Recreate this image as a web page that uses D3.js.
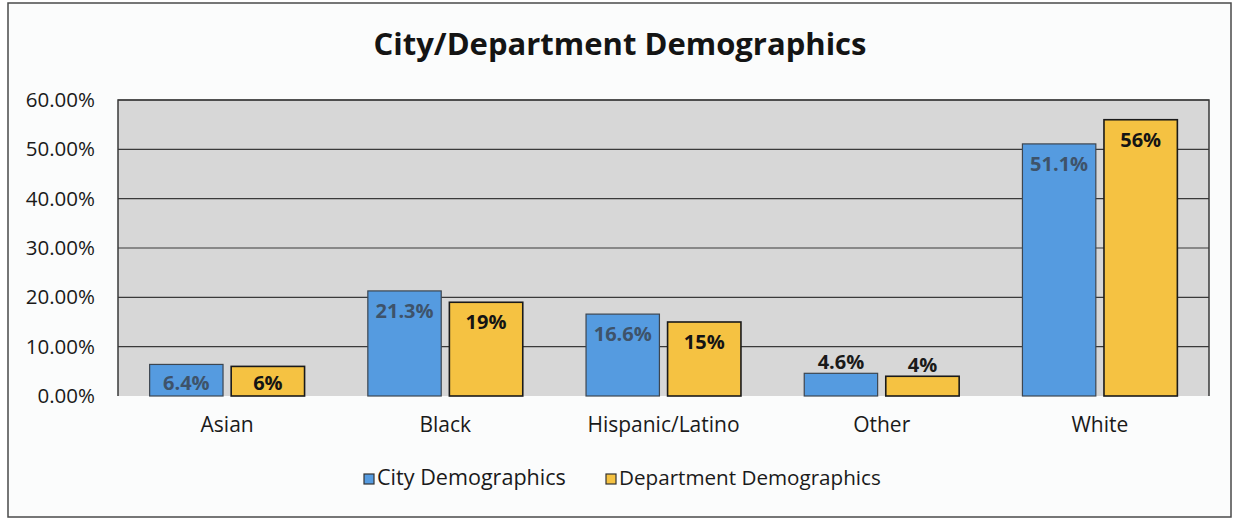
<!DOCTYPE html>
<html>
<head>
<meta charset="utf-8">
<script src="https://cdn.jsdelivr.net/npm/d3@7"></script>
<style>
  body { margin: 0; background: #ffffff; }
  text { font-family: "Open Sans", sans-serif; }
</style>
</head>
<body>
<div id="chart"></div>
<script>
// data
const categories = ['Asian', 'Black', 'Hispanic/Latino', 'Other', 'White'];
const seriesNames = ['City Demographics', 'Department Demographics'];
const cityValues = [6.4, 21.3, 16.6, 4.6, 51.1];
const deptValues = [6, 19, 15, 4, 56];
const cityLabels = ['6.4%', '21.3%', '16.6%', '4.6%', '51.1%'];
const deptLabels = ['6%', '19%', '15%', '4%', '56%'];
const yTicks = [0, 10, 20, 30, 40, 50, 60];
const labelAbove = ['Other'];   // labels sitting above the bar instead of inside

const W = 1238, H = 519;
const plot = {left: 118, right: 1209, top: 100, bottom: 396};
const colors = ['#559be0', '#f5c242'];
const strokes = ['#3d4650', '#1a1a1a'];
const labelColors = ['#3b4756', '#141414'];

const svg = d3.select('#chart').append('svg')
    .attr('width', W).attr('height', H);

// shrink/grow a text's font so it spans the width seen in the picture
function fitWidth(sel, target) {
  sel.each(function() {
    const t = d3.select(this);
    const fs = parseFloat(t.attr('font-size'));
    const w = this.getComputedTextLength();
    if (w > 0) t.attr('font-size', (fs * target / w).toFixed(2));
  });
}

// outer frame
svg.append('rect')
    .attr('x', 8).attr('y', 3).attr('width', 1223).attr('height', 514)
    .attr('fill', '#fbfcfc').attr('stroke', '#4a4a4a').attr('stroke-width', 1.5);

const x0 = d3.scaleBand().domain(categories)
    .range([plot.left, plot.right]).paddingInner(0.29).paddingOuter(0.145);
const x1 = d3.scaleBand().domain(seriesNames)
    .range([0, x0.bandwidth()]).paddingInner(0.1);
const y = d3.scaleLinear().domain([0, 60]).range([plot.bottom, plot.top]);

// plot background
svg.append('rect')
    .attr('x', plot.left).attr('y', plot.top)
    .attr('width', plot.right - plot.left).attr('height', plot.bottom - plot.top)
    .attr('fill', '#d7d7d7');

// gridlines
svg.append('g').selectAll('line')
    .data(yTicks.filter(d => d > 0))
    .join('line')
    .attr('x1', plot.left).attr('x2', plot.right)
    .attr('y1', d => y(d)).attr('y2', d => y(d))
    .attr('stroke', '#3a3a3a').attr('stroke-width', 1.2);

// plot border (left, top, right)
svg.append('path')
    .attr('d', `M${plot.left},${plot.bottom}V${plot.top}H${plot.right}V${plot.bottom}`)
    .attr('fill', 'none').attr('stroke', '#3a3a3a').attr('stroke-width', 1.5);

// y axis labels
const yAxis = svg.append('g')
    .attr('transform', `translate(${plot.left},0)`)
    .call(d3.axisLeft(y).tickValues(yTicks).tickSize(0).tickPadding(23)
        .tickFormat(d => d3.format('.2f')(d) + '%'));
yAxis.select('.domain').remove();
yAxis.selectAll('text').attr('font-size', 20.5).attr('fill', '#1a1a1a')
    .style('font-family', '"Open Sans", sans-serif');

// x axis labels
const xAxis = svg.append('g')
    .attr('transform', `translate(0,${plot.bottom})`)
    .call(d3.axisBottom(x0).tickSize(0).tickPadding(21));
xAxis.select('.domain').remove();
xAxis.selectAll('text').attr('font-size', 21).attr('fill', '#1a1a1a')
    .style('font-family', '"Open Sans", sans-serif');

// bars
const rows = categories.map((c, i) => ({
  cat: c,
  vals: [
    {s: 0, v: cityValues[i], lab: cityLabels[i]},
    {s: 1, v: deptValues[i], lab: deptLabels[i]}
  ]
}));

const groups = svg.append('g').selectAll('g')
    .data(rows).join('g')
    .attr('transform', d => `translate(${x0(d.cat)},0)`);

groups.selectAll('rect')
    .data(d => d.vals.map(v => ({...v, cat: d.cat})))
    .join('rect')
    .attr('x', d => x1(seriesNames[d.s]))
    .attr('width', x1.bandwidth())
    .attr('y', d => y(d.v))
    .attr('height', d => y(0) - y(d.v))
    .attr('fill', d => colors[d.s])
    .attr('stroke', d => strokes[d.s])
    .attr('stroke-width', d => d.s === 0 ? 1.2 : 1.6);

groups.selectAll('text.val')
    .data(d => d.vals.map(v => ({...v, cat: d.cat})))
    .join('text')
    .attr('class', 'val')
    .attr('x', d => x1(seriesNames[d.s]) + x1.bandwidth() / 2)
    .attr('y', d => labelAbove.includes(d.cat) ? y(d.v) - 4 : Math.min(y(d.v) + 27, y(0) - 6))
    .attr('text-anchor', 'middle')
    .attr('font-size', 20).attr('font-weight', 'bold')
    .attr('fill', d => labelAbove.includes(d.cat) ? '#1a1a1a' : labelColors[d.s])
    .attr('opacity', d => d.s === 0 && !labelAbove.includes(d.cat) ? 0.85 : 1)
    .text(d => d.lab);

// title
svg.append('text')
    .attr('x', 620).attr('y', 55)
    .attr('text-anchor', 'middle')
    .attr('font-size', 28).attr('font-weight', 'bold').attr('fill', '#141414')
    .text('City/Department Demographics')
    .call(fitWidth, 493);

// legend
const legendX = [364, 606];
const legendW = [189, 262];
const legend = svg.append('g').selectAll('g')
    .data(seriesNames).join('g')
    .attr('transform', (d, i) => `translate(${legendX[i]},474)`);
legend.append('rect')
    .attr('width', 10).attr('height', 10)
    .attr('fill', (d, i) => colors[i])
    .attr('stroke', '#333').attr('stroke-width', 1.2);
legend.append('text')
    .attr('x', 13).attr('y', 11)
    .attr('font-size', 19).attr('fill', '#1a1a1a')
    .text(d => d)
    .each(function(d, i) { d3.select(this).call(fitWidth, legendW[i]); });
</script>
</body>
</html>
